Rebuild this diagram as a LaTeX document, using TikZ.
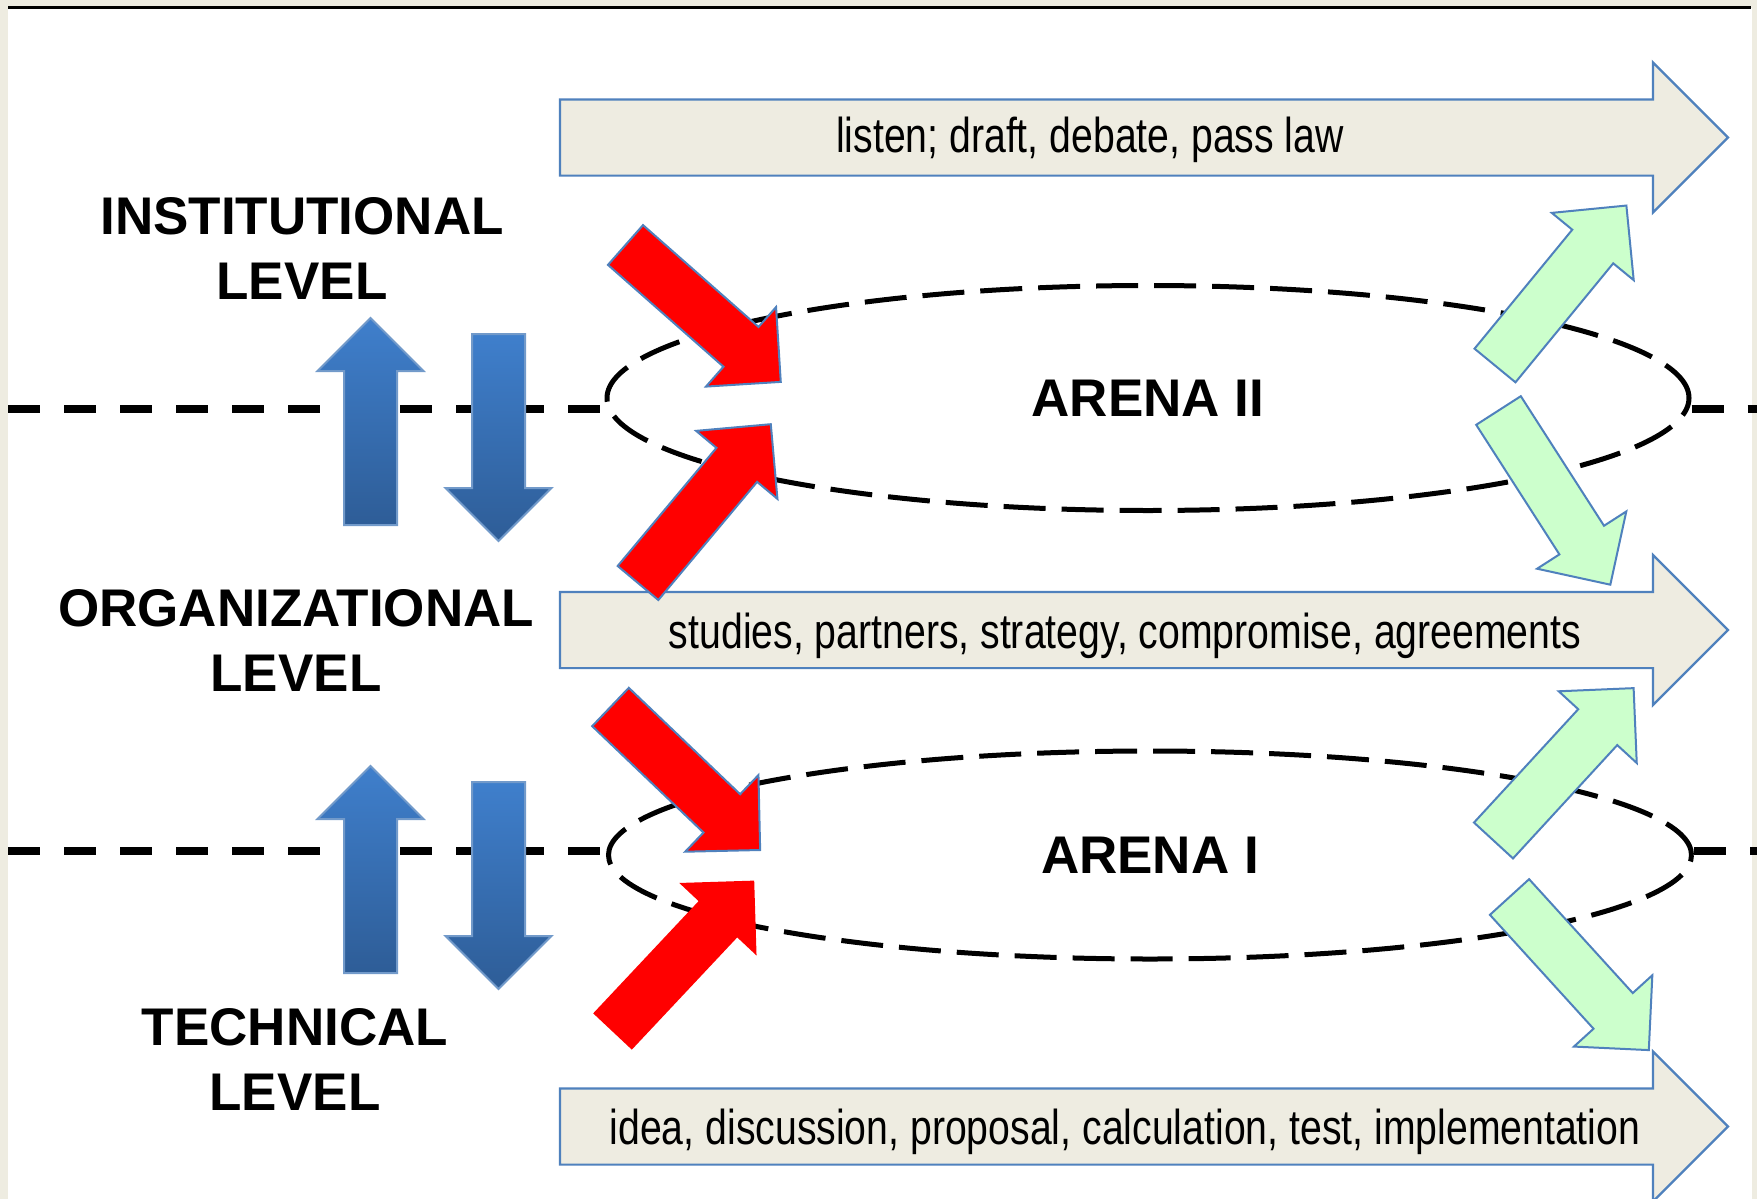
\documentclass[tikz,border=0pt]{standalone}
\usepackage{fontspec}
\setmainfont{Liberation Sans}
\newfontfamily\narrowfont[FakeStretch=0.8]{Liberation Sans}
\usetikzlibrary{shapes.arrows,shapes.geometric}

\definecolor{paper}{HTML}{EEECE1}
\definecolor{rim}{HTML}{4F81BD}
\definecolor{mint}{HTML}{CCFFCC}
\definecolor{bluetop}{HTML}{3F7FCC}
\definecolor{bluebot}{HTML}{2E5D97}

\tikzset{
  flowarrow/.style={single arrow, anchor=tail, draw=rim, fill=paper, line width=1.1pt,
    inner xsep=0pt, inner ysep=18.5pt, outer sep=0pt, minimum height=584pt, minimum width=74pt,
    single arrow head extend=18.5pt},
  pusharrow/.style={single arrow, anchor=tail, draw=rim, line width=1pt,
    inner xsep=0pt, inner ysep=12.75pt, outer sep=0pt, minimum height=103.5pt, minimum width=52pt,
    single arrow head extend=13.25pt},
  redarrow/.style={pusharrow, fill=red},
  greenarrow/.style={pusharrow, fill=mint},
  uparrow/.style={pusharrow, rotate=90, draw=rim!80, top color=bluetop, bottom color=bluebot},
  downarrow/.style={pusharrow, rotate=-90, draw=rim!80, top color=bluetop, bottom color=bluebot},
  arena/.style={ellipse, draw, dashed, dash pattern=on 21pt off 8pt, line width=2.5pt,
    inner sep=0pt, font=\fontsize{26.5}{32}\selectfont\bfseries},
  levelline/.style={line width=4pt, dash pattern=on 16pt off 12pt},
  leveltext/.style={align=center, inner sep=0pt, font=\fontsize{26.5}{32.5}\selectfont\bfseries},
  flowtext/.style={anchor=base, inner sep=0pt, font=\narrowfont\fontsize{24.5}{29}\selectfont}
}

\begin{document}
\begin{tikzpicture}[x=0.5pt, y=-0.5pt]
  \useasboundingbox (0,0) rectangle (1757,1199);
  \fill[paper] (0,0) rectangle (1757,1199);
  \fill[white] (8,8) rectangle (1752,1199);
  \draw[line width=1.5pt] (8,7) -- (1751,7);

  % arenas
  \node[arena, minimum width=541pt, minimum height=112.5pt] at (1148, 398) (arena2) {ARENA II};
  \node[arena, minimum width=541.5pt, minimum height=104pt] at (1150, 855) (arena1) {ARENA I};

  % level borders
  \coordinate (b2l) at (8, 409);
  \coordinate (b2r) at (1757, 409);
  \coordinate (b1l) at (8, 851);
  \coordinate (b1r) at (1757, 851);
  \draw[levelline] (b2l) -- (b2l -| arena2.west);
  \draw[levelline] (b2r -| arena2.east) -- (b2r);
  \draw[levelline] (b1l) -- (b1l -| arena1.west);
  \draw[levelline] (b1r -| arena1.east) -- (b1r);

  % level names
  \node[leveltext] at (302, 248.5) (inst) {INSTITUTIONAL\\LEVEL};
  \node[leveltext] at (296, 640) (orga) {ORGANIZATIONAL\\LEVEL};
  \node[leveltext] at (295, 1059) (tech) {TECHNICAL\\LEVEL};

  % processes
  \node[flowarrow] at (560, 137.5) (flow3) {};
  \node[flowarrow] at (560, 630) (flow2) {};
  \node[flowarrow] at (560, 1126.5) (flow1) {};
  \node[flowtext] at (1090, 152) (law) {listen; draft, debate, pass law};
  \node[flowtext] at (1125, 648) (deal) {studies, partners, strategy, compromise, agreements};
  \node[flowtext] at (1125, 1144) (work) {idea, discussion, proposal, calculation, test, implementation};

  % inputs
  \node[redarrow, rotate=-41.4] at (625.5, 245) (in4) {};
  \node[redarrow, rotate=50.1] at (638, 583) (in3) {};
  \node[redarrow, rotate=-43.7] at (610.5, 707) (in2) {};
  \node[redarrow, rotate=46.8, draw=none] at (612.5, 1031.5) (in1) {};

  % outputs
  \node[greenarrow, rotate=50.6] at (1495, 365.5) (out4) {};
  \node[greenarrow, rotate=-57.3] at (1498.5, 410.5) (out3) {};
  \node[greenarrow, rotate=47.4] at (1493.5, 840.5) (out2) {};
  \node[greenarrow, rotate=-47.7] at (1509.5, 897) (out1) {};

  % between levels
  \node[uparrow] at (370.5, 525) (up2) {};
  \node[downarrow] at (498.5, 334) (down2) {};
  \node[uparrow] at (370.5, 973) (up1) {};
  \node[downarrow] at (498.5, 782) (down1) {};
\end{tikzpicture}
\end{document}
